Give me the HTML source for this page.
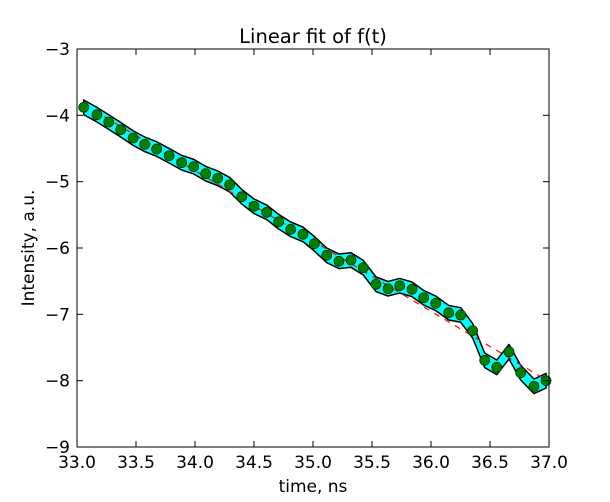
<!DOCTYPE html>
<html><head><meta charset="utf-8"><style>
body{margin:0;background:#fff;}
svg text{font-family:"DejaVu Sans","Liberation Sans",sans-serif;fill:#000;}
</style></head><body>
<svg id="chart" width="610" height="497" xmlns="http://www.w3.org/2000/svg">
<rect width="610" height="497" fill="#fff"/>
<g id="plot"></g>
<text x="313" y="43" font-size="19.5" text-anchor="middle">Linear fit of f(t)</text>
<text x="313" y="492" font-size="17" text-anchor="middle">time, ns</text>
<text transform="translate(34,248) rotate(-90)" font-size="17" text-anchor="middle">Intensity, a.u.</text>
</svg>
<script>
const times=[33.057,33.169,33.269,33.370,33.475,33.574,33.675,33.780,33.887,33.989,34.091,34.192,34.294,34.396,34.500,34.608,34.709,34.811,34.915,35.011,35.116,35.220,35.322,35.426,35.534,35.636,35.735,35.839,35.938,36.040,36.150,36.252,36.353,36.455,36.557,36.661,36.760,36.873,36.975];
const values=[-3.879,-3.990,-4.101,-4.217,-4.342,-4.437,-4.508,-4.609,-4.714,-4.774,-4.880,-4.949,-5.046,-5.227,-5.371,-5.462,-5.604,-5.718,-5.794,-5.935,-6.110,-6.201,-6.181,-6.297,-6.547,-6.614,-6.569,-6.623,-6.750,-6.834,-6.976,-7.010,-7.247,-7.693,-7.799,-7.564,-7.880,-8.085,-8.001];
const bandHalf=0.11;
const xTicks=[33.0,33.5,34.0,34.5,35.0,35.5,36.0,36.5,37.0];
const yTicks=[-3,-4,-5,-6,-7,-8,-9];
const L=77,R=549,T=49,B=447;
const xs=v=>L+(v-33)/(37-33)*(R-L);
const ys=v=>T+(-3-v)/6*(B-T);
const NS="http://www.w3.org/2000/svg";
const g=document.getElementById('plot');
function mk(tag,attrs){const e=document.createElementNS(NS,tag);for(const k in attrs)e.setAttribute(k,attrs[k]);g.appendChild(e);return e;}
let up=times.map((t,i)=>xs(t)+','+ys(values[i]+bandHalf));
let dn=times.map((t,i)=>xs(t)+','+ys(values[i]-bandHalf)).reverse();
const band=mk('polygon',{points:up.concat(dn).join(' '),fill:'#00ffff',stroke:'#000','stroke-width':1.5,'stroke-linejoin':'round'});


const n=times.length;let mx=0,my=0;times.forEach((t,i)=>{mx+=t;my+=values[i];});mx/=n;my/=n;
let sxy=0,sxx=0;times.forEach((t,i)=>{sxy+=(t-mx)*(values[i]-my);sxx+=(t-mx)*(t-mx);});
const slope=sxy/sxx,ic=my-slope*mx;
const t0=times[0],t1=times[n-1];
const fit=mk('line',{x1:xs(t0),y1:ys(ic+slope*t0),x2:xs(t1),y2:ys(ic+slope*t1),stroke:'#ff0000','stroke-width':1.2,'stroke-dasharray':'6,6'});


times.forEach((t,i)=>{
 const c=mk('circle',{cx:xs(t),cy:ys(values[i]),r:5,fill:'#007f00',stroke:'#003300','stroke-width':0.8});
 
 
});
const fr=mk('rect',{x:L,y:T,width:R-L,height:B-T,fill:'none',stroke:'#000','stroke-width':1});


xTicks.forEach(v=>{
 const x=xs(v);
 mk('line',{x1:x,y1:B,x2:x,y2:B-6,stroke:'#000'});
 mk('line',{x1:x,y1:T,x2:x,y2:T+6,stroke:'#000'});
 const tx=mk('text',{x:x,y:B+21,'font-size':17,'text-anchor':'middle'});
 tx.textContent=v.toFixed(1);
 
 
});
yTicks.forEach(v=>{
 const y=ys(v);
 mk('line',{x1:L,y1:y,x2:L+6,y2:y,stroke:'#000'});
 mk('line',{x1:R,y1:y,x2:R-6,y2:y,stroke:'#000'});
 const tx=mk('text',{x:L-7,y:y+6,'font-size':17,'text-anchor':'end'});
 tx.textContent='\u2212'+Math.abs(v);
 
 
});
</script>
</body></html>
